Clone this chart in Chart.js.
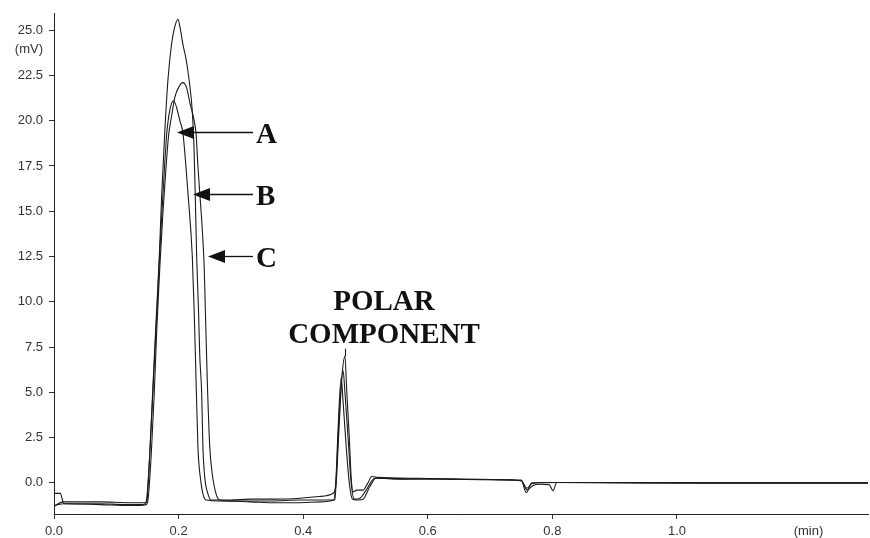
<!DOCTYPE html>
<html>
<head>
<meta charset="utf-8">
<script src="https://cdn.jsdelivr.net/npm/chart.js@4.4.1/dist/chart.umd.min.js"></script>
<style>
  body { margin: 0; background: #fff; }
  canvas { display: block; }
</style>
</head>
<body>
<canvas id="chart" width="870" height="538"></canvas>
<script>
// time (min) and signal (mV)
var tA = [0.000, 0.010, 0.016, 0.074, 0.114, 0.143, 0.148, 0.152, 0.157, 0.162, 0.167, 0.172, 0.177, 0.181, 0.186, 0.192,
    0.197, 0.202, 0.207, 0.215, 0.222, 0.225, 0.228, 0.231, 0.236, 0.239, 0.244, 0.266, 0.315, 0.355, 0.395, 0.427,
    0.449, 0.453, 0.456, 0.461, 0.464, 0.469, 0.474, 0.479, 0.485, 0.496, 0.507, 0.517, 0.555, 0.620, 0.684, 0.750,
    0.759, 0.769, 0.780, 0.795, 0.801, 0.807, 0.876, 1.037, 1.307];
var vA = [-0.58, -0.58, -1.15, -1.15, -1.2, -1.2, -1.05, 0.6, 3.8, 7.3, 10.8, 14.2, 17.2, 19.3, 20.6, 21.1,
    20.7, 20.0, 19.3, 16.0, 12.5, 9.5, 5.7, 2.0, 0.0, -0.6, -0.95, -1.0, -1.05, -1.1, -1.1, -1.05,
    -0.95, 0.5, 3.0, 5.8, 4.5, 2.0, 0.0, -0.9, -0.95, -0.9, -0.2, 0.25, 0.2, 0.22, 0.18, 0.12,
    -0.4, -0.15, -0.08, -0.1, -0.44, 0.02, 0.02, 0.0, 0.0];

var tB = [0.000, 0.014, 0.074, 0.122, 0.146, 0.149, 0.154, 0.159, 0.164, 0.169, 0.173, 0.178, 0.183, 0.189, 0.194, 0.199,
    0.202, 0.207, 0.212, 0.217, 0.222, 0.225, 0.227, 0.229, 0.232, 0.234, 0.237, 0.239, 0.242, 0.247, 0.252, 0.283,
    0.315, 0.355, 0.395, 0.427, 0.448, 0.453, 0.456, 0.459, 0.462, 0.467, 0.470, 0.474, 0.477, 0.480, 0.486, 0.496,
    0.504, 0.510, 0.520, 0.587, 0.668, 0.750, 0.758, 0.767, 0.812, 0.957, 1.307];
var vB = [-1.3, -1.05, -1.05, -1.1, -1.1, -1.0, 1.8, 5.5, 9.0, 12.5, 16.0, 19.5, 22.3, 24.3, 25.2, 25.6,
    25.2, 24.2, 23.4, 22.2, 20.5, 18.2, 15.5, 12.5, 9.5, 7.0, 5.0, 2.0, 0.3, -0.6, -0.95, -0.95,
    -0.9, -0.9, -0.85, -0.75, -0.57, 0.0, 2.0, 4.0, 5.8, 7.0, 5.0, 2.5, 0.3, -0.5, -0.4, -0.4,
    0.0, 0.35, 0.3, 0.25, 0.2, 0.15, -0.55, 0.0, 0.02, 0.0, 0.0];

var tC = [0.000, 0.016, 0.074, 0.122, 0.148, 0.151, 0.156, 0.161, 0.165, 0.170, 0.175, 0.180, 0.184, 0.189, 0.194, 0.201,
    0.207, 0.213, 0.218, 0.225, 0.228, 0.231, 0.234, 0.238, 0.241, 0.243, 0.246, 0.250, 0.254, 0.260, 0.266, 0.299,
    0.347, 0.395, 0.427, 0.451, 0.454, 0.459, 0.464, 0.467, 0.472, 0.477, 0.482, 0.491, 0.501, 0.515, 0.571, 0.652,
    0.750, 0.759, 0.767, 0.788, 1.037, 1.307];
var vC = [-1.25, -1.15, -1.2, -1.25, -1.2, -0.9, 1.5, 5.0, 8.5, 12.0, 15.0, 17.5, 19.2, 20.3, 21.3, 21.9,
    22.1, 21.8, 21.0, 20.0, 19.3, 17.5, 16.0, 14.0, 12.0, 9.5, 5.7, 2.0, 0.5, -0.6, -0.95, -1.0,
    -1.0, -0.95, -0.95, -0.95, 1.0, 4.5, 6.2, 5.0, 2.5, 0.0, -0.9, -0.85, -0.4, 0.25, 0.22, 0.2,
    0.12, -0.3, -0.05, 0.02, 0.0, 0.0];

var xTicks = [0.0, 0.2, 0.4, 0.6, 0.8, 1.0];
var yTicks = [0.0, 2.5, 5.0, 7.5, 10.0, 12.5, 15.0, 17.5, 20.0, 22.5, 25.0];

// arrow labels: tip (t, mV), tail t, text t
var arrowLabels = [
    { text: "A", tipT: 0.1974, tipV: 19.4, tailT: 0.3194, textT: 0.3242 },
    { text: "B", tipT: 0.2231, tipV: 15.96, tailT: 0.3194, textT: 0.3242 },
    { text: "C", tipT: 0.2472, tipV: 12.52, tailT: 0.3194, textT: 0.3242 },
];
var polarLabel = { lines: ["POLAR", "COMPONENT"], t: 0.5297, v: 9.95, pointT: 0.4671, pointV: 7.0 };

function pts(ts, vs) {
    return ts.map(function (t, i) { return { x: t, y: vs[i] }; });
}

function line(ts, vs) {
    return {
        data: pts(ts, vs),
        borderColor: "#1b1b1b",
        borderWidth: 1.1,
        pointRadius: 0,
        fill: false,
        cubicInterpolationMode: "monotone",
    };
}

var annotate = {
    id: "annotate",
    afterDraw: function (chart) {
        var ctx = chart.ctx;
        var xs = chart.scales.x, ys = chart.scales.y;
        ctx.save();
        ctx.strokeStyle = "#111";
        ctx.lineWidth = 1.3;

        // units
        ctx.font = "13px 'Liberation Sans', Arial, sans-serif";
        ctx.fillStyle = "#333";
        ctx.textAlign = "right";
        ctx.textBaseline = "middle";
        ctx.fillText("(mV)", ys.right - 11, ys.getPixelForValue(25) + 19);
        ctx.textAlign = "center";
        ctx.fillText("(min)", xs.getPixelForValue(1.211), 531);

        // arrows
        ctx.fillStyle = "#111";
        ctx.font = "bold 29px 'Liberation Serif', 'Times New Roman', serif";
        arrowLabels.forEach(function (a) {
            var tx = xs.getPixelForValue(a.tipT), ty = Math.round(ys.getPixelForValue(a.tipV)) + 0.5;
            var tail = xs.getPixelForValue(a.tailT);
            ctx.beginPath();
            ctx.moveTo(tx + 14, ty);
            ctx.lineTo(tail, ty);
            ctx.stroke();
            ctx.beginPath();
            ctx.moveTo(tx, ty);
            ctx.lineTo(tx + 17, ty - 6.5);
            ctx.lineTo(tx + 17, ty + 6.5);
            ctx.closePath();
            ctx.fill();
            ctx.textAlign = "left";
            ctx.textBaseline = "middle";
            ctx.fillText(a.text, xs.getPixelForValue(a.textT), ty + 3);
        });

        // polar component label
        var px = xs.getPixelForValue(polarLabel.t);
        var py = ys.getPixelForValue(polarLabel.v);
        ctx.textAlign = "center";
        ctx.textBaseline = "middle";
        ctx.fillText(polarLabel.lines[0], px, py);
        ctx.fillText(polarLabel.lines[1], px, py + 33);
        var lx = Math.round(xs.getPixelForValue(polarLabel.pointT)) + 0.5;
        ctx.lineWidth = 1;
        ctx.beginPath();
        ctx.moveTo(lx, py + 46);
        ctx.lineTo(lx, ys.getPixelForValue(polarLabel.pointV));
        ctx.stroke();
        ctx.restore();
    },
};

var ctx = document.getElementById("chart");
var chart = new Chart(ctx, {
    type: "line",
    data: {
        datasets: [line(tA, vA), line(tB, vB), line(tC, vC)],
    },
    options: {
        responsive: false,
        animation: false,
        layout: { padding: { top: 13, right: 2, left: 0, bottom: 0 } },
        plugins: {
            legend: { display: false },
            tooltip: { enabled: false },
        },
        scales: {
            x: {
                type: "linear",
                min: 0,
                max: 1.3066,
                afterFit: function (s) { s.height = 24; },
                afterBuildTicks: function (s) { s.ticks = xTicks.map(function (v) { return { value: v }; }); },
                grid: { drawOnChartArea: false, drawTicks: true, tickLength: 5, color: "#333" },
                border: { color: "#222", width: 1 },
                ticks: {
                    padding: 5,
                    maxRotation: 0,
                    color: "#333",
                    font: { family: "'Liberation Sans', Arial, sans-serif", size: 13 },
                    callback: function (v) { return Number(v).toFixed(1); },
                },
            },
            y: {
                min: -1.72,
                max: 25.9,
                afterFit: function (s) { s.width = 54; },
                afterBuildTicks: function (s) { s.ticks = yTicks.map(function (v) { return { value: v }; }); },
                grid: { drawOnChartArea: false, drawTicks: true, tickLength: 5, color: "#333" },
                border: { color: "#222", width: 1 },
                ticks: {
                    padding: 6,
                    color: "#333",
                    font: { family: "'Liberation Sans', Arial, sans-serif", size: 13 },
                    callback: function (v) { return Number(v).toFixed(1); },
                },
            },
        },
    },
    plugins: [annotate],
});
</script>
</body>
</html>
